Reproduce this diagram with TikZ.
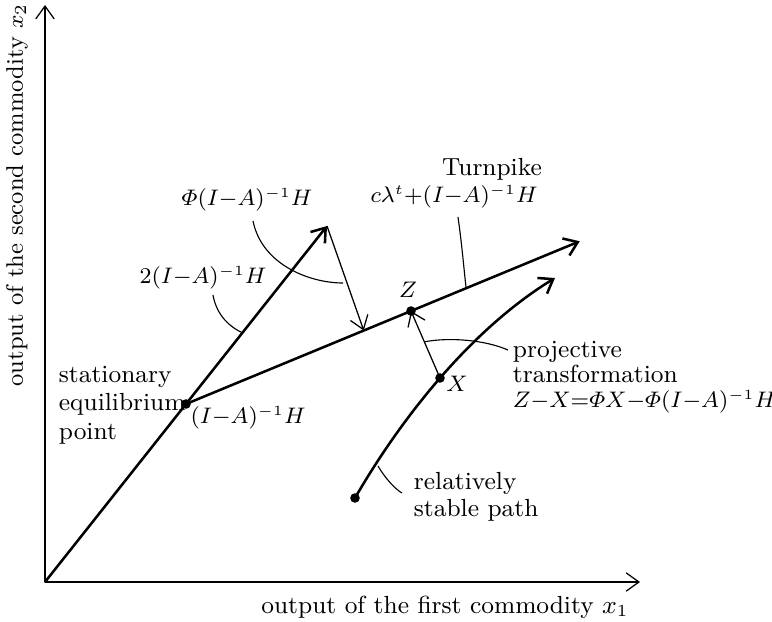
\documentclass[tikz,border=0pt]{standalone}
\usepackage{amsmath}
\usepackage{fontspec}
\usetikzlibrary{arrows.meta,calc}
\begin{document}
\begin{tikzpicture}[x=0.125mm,y=-0.125mm,line join=round,
 arr/.style={-{Straight Barb[length=1.6mm,width=2.3mm]}},
 main/.style={line width=0.9pt},
 thin/.style={line width=0.45pt},
 leader/.style={line width=0.4pt},
 dot/.style={circle,fill,inner sep=0pt,minimum size=1.2mm},
 lab/.style={font=\fontsize{8.8}{9.8}\selectfont},
 mlab/.style={font=\fontsize{7.8}{9}\selectfont}]
 \useasboundingbox (0,0) rectangle (772,622);
 \coordinate (O) at (45,582);
 \coordinate (Ytip) at (45,5);
 \coordinate (Xtip) at (640,582);
 \coordinate (E) at (186,404);
 \coordinate (Z) at (411,311);
 \coordinate (X) at (440,378);
 \coordinate (S) at (355,498);
 \coordinate (Send) at (555,278);
 \coordinate (T) at ($(O)!2!(E)$);
 \coordinate (P) at ($(E)!0.79!(Z)$);
 \coordinate (Tend) at ($(E)!1.75!(Z)$);
 \draw[thin,{Straight Barb[length=1.6mm,width=2.3mm]}-{Straight Barb[length=1.6mm,width=2.3mm]}] (Ytip) -- (O) -- (Xtip);
 \draw[main,arr] (O) -- (T);
 \draw[main,arr] (E) -- (Tend);
 \draw[thin,arr] (T) -- (P);
 \draw[thin,arr] (X) -- (Z);
 \draw[main,arr] (S) .. controls (400,420) and (470,330) .. (Send);
 \foreach \p in {E,Z,X,S}{\node[dot] (d\p) at (\p) {};}
 % labels
 \node[lab] (turn) at (492,169) {Turnpike};
 \node[mlab] (ltp) at (454,197) {$c\lambda^t{+}(I{-}A)^{-1}H$};
 \node[mlab] (lphi) at (247,200) {$\varPhi(I{-}A)^{-1}H$};
 \node[mlab] (l2) at (203,278) {$2(I{-}A)^{-1}H$};
 \node[mlab] (lE) at (248,418) {$(I{-}A)^{-1}H$};
 \node[mlab] (lZ) at (408,290) {$Z$};
 \node[mlab] (lX) at (457,384) {$X$};
 \node[lab,align=left,anchor=west,font=\fontsize{8.8}{10.2}\selectfont] (stat) at (49,405) {stationary\\equilibrium\\point};
 \node[lab,align=left,anchor=west,font=\fontsize{8.8}{8.9}\selectfont] (proj) at (503,377) {projective\\transformation\\{\fontsize{7.6}{9}\selectfont$Z{-}X{=}\varPhi X{-}\varPhi(I{-}A)^{-1}H$}};
 \node[lab,align=left,anchor=west,font=\fontsize{8.8}{9.7}\selectfont] (rel) at (404,497) {relatively\\stable path};
 \node[lab] (xl) at (445,607) {output of the first commodity $x_1$};
 \node[lab,rotate=90,font=\fontsize{8.5}{9.5}\selectfont] (yl) at (17,195) {output of the second commodity $x_2$};
 % leaders
 \coordinate (a1) at (253,221);
 \coordinate (a2) at (213,295);
 \coordinate (a3) at (458,217);
 \coordinate (a4) at (508,350);
 \coordinate (a5) at (402,493);
 \coordinate (b2) at ($(O)!1.4!(E)$);
 \coordinate (b3) at ($(E)!1.245!(Z)$);
 \coordinate (b4) at ($(X)!0.54!(Z)$);
 \coordinate (b5) at (378,466);
 \draw[leader] (a1) .. controls (262,265) and (310,283) .. (343,283);
 \draw[leader] (a2) .. controls (216,312) and (226,325) .. (b2);
 \draw[leader] (a3) .. controls (462,245) and (464,270) .. (b3);
 \draw[leader] (b4) .. controls (450,337) and (485,340) .. (a4);
 \draw[leader] (b5) .. controls (385,478) and (395,489) .. (a5);
\end{tikzpicture}
\end{document}
